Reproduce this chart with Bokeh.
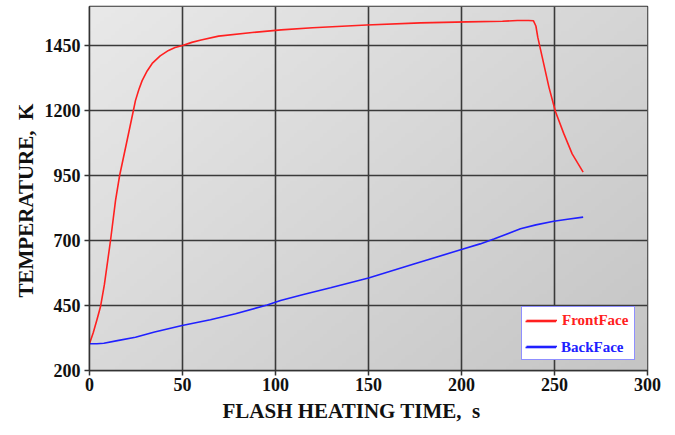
import numpy as np
from bokeh.plotting import figure
from bokeh.models import Range1d, Legend, LegendItem, FixedTicker, Title
from bokeh.embed import file_html
from bokeh.resources import INLINE

# ---- data ----
front_t = [0, 2, 4, 5.9, 8, 11.3, 14, 16.2, 20, 23.6, 24.7, 26.5, 28.3, 31, 33.7, 38, 42.5, 46,
           50, 55, 60, 69.4, 87.5, 103, 120, 149, 178, 203, 222, 230, 236, 238.7, 240, 241,
           243.4, 247, 250.5, 255, 259.5, 265.4]
front_v = [303, 345, 395, 445, 530, 700, 854, 950, 1078, 1200, 1238, 1280, 1315, 1352, 1381,
           1410, 1431, 1442, 1450, 1462, 1471, 1486, 1500, 1510, 1518, 1529, 1537, 1541, 1543,
           1546, 1546, 1545, 1525, 1482, 1405, 1290, 1196, 1111, 1033, 963]

back_t = [0, 4, 7.7, 15, 24.7, 35, 49.8, 65, 78.5, 95.5, 102.7, 115, 129.6, 150, 174.4, 200.4,
          210, 217.4, 231.7, 240, 249.6, 257, 265.4]
back_v = [303, 303, 305, 315, 328, 348, 373, 395, 418, 452, 469, 492, 518, 556, 610, 666,
          687, 706, 745, 760, 774, 782, 790]

x_ticks = [0, 50, 100, 150, 200, 250, 300]
y_ticks = [200, 450, 700, 950, 1200, 1450]
X_MIN, X_MAX = 0, 300
Y_MIN, Y_MAX = 200, 1600
X_LABEL = "FLASH HEATING TIME, \u00a0s"
Y_LABEL = "TEMPERATURE, \u00a0K"

FONT = "Liberation Serif"
RED = "#ff2020"
BLUE = "#2020ff"

p = figure(frame_width=558, frame_height=364, min_border_left=89, min_border_right=28,
           min_border_top=6, min_border_bottom=65, output_backend="svg",
           toolbar_location=None, x_range=Range1d(X_MIN, X_MAX), y_range=Range1d(Y_MIN, Y_MAX))

# background gradient in plot area
ny, nx = 100, 150
jj, ii = np.mgrid[0:ny, 0:nx]
shade = 233 - 36 * (0.55 * ii / (nx - 1) + 0.45 * (1 - jj / (ny - 1)))
shade = shade.astype(np.uint32)
img = (255 << 24) | (shade << 16) | (shade << 8) | shade
img = img.astype(np.uint32)
p.image_rgba(image=[img], x=X_MIN, y=Y_MIN, dw=X_MAX - X_MIN, dh=Y_MAX - Y_MIN, level="image")

p.background_fill_color = "#dddddd"
p.border_fill_color = "white"
p.outline_line_color = "#333333"
p.outline_line_width = 1.5

r_front = p.line(front_t, front_v, line_color=RED, line_width=1.6)
r_back = p.line(back_t, back_v, line_color=BLUE, line_width=1.6)

for ax in (p.xaxis[0], p.yaxis[0]):
    ax.axis_line_color = "#333333"
    ax.axis_line_width = 1.5
    ax.major_tick_line_color = "#333333"
    ax.major_tick_line_width = 1.5
    ax.major_tick_out = 5
    ax.major_tick_in = 0
    ax.minor_tick_line_color = None
    ax.major_label_text_font = FONT
    ax.major_label_text_font_style = "bold"
    ax.major_label_text_font_size = "18px"
    ax.major_label_text_color = "#111111"

p.xaxis.ticker = FixedTicker(ticks=x_ticks)
p.yaxis.ticker = FixedTicker(ticks=y_ticks)
p.xaxis.major_label_standoff = 2
p.yaxis.major_label_standoff = 4

for g in (p.xgrid[0], p.ygrid[0]):
    g.grid_line_color = "#3a3a3a"
    g.grid_line_width = 1.6
p.xgrid.ticker = FixedTicker(ticks=x_ticks)
p.ygrid.ticker = FixedTicker(ticks=y_ticks)

# axis titles (as Titles so they can be offset like the reference)
lbl_style = dict(text_font=FONT, text_font_style="bold", text_font_size="21px",
                 text_color="#111111", align="left")
p.add_layout(Title(text=X_LABEL, offset=133, standoff=6, **lbl_style), "below")
p.add_layout(Title(text=Y_LABEL, offset=73, standoff=8, **lbl_style), "left")

common = dict(glyph_width=31, glyph_height=18, label_height=18, label_width=68,
              label_standoff=5, spacing=8, border_line_color=BLUE, border_line_width=1.5,
              label_text_font=FONT, label_text_font_style="bold", label_text_font_size="15px",
              margin=0, padding=4, location=(432, 10))
BLANK = "\u00a0"
# box legend: red FrontFace text, blank second slot
leg_a = Legend(items=[LegendItem(label="FrontFace", renderers=[r_front]),
                      LegendItem(label=BLANK, renderers=[r_back])],
               background_fill_color="white", background_fill_alpha=1.0,
               label_text_color=RED, **common)
# identical-size transparent overlay: blue BackFace text in the second slot
leg_b = Legend(items=[LegendItem(label=BLANK, renderers=[r_front]),
                      LegendItem(label="BackFace", renderers=[r_back])],
               background_fill_alpha=0.0, border_line_alpha=0.0,
               label_text_color=BLUE, **common)
p.add_layout(leg_a, "center")
p.add_layout(leg_b, "center")

open("out.html", "w").write(file_html(p, INLINE))
